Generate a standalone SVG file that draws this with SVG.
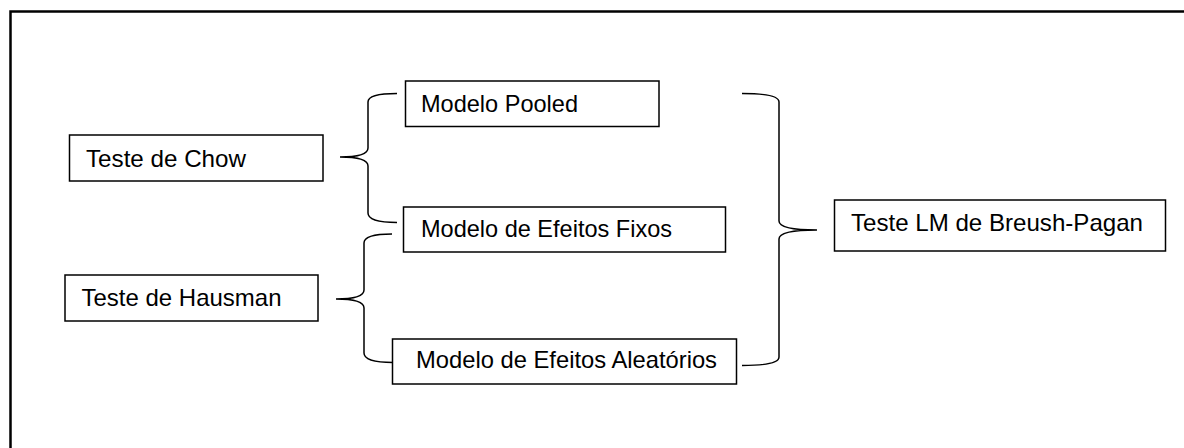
<svg xmlns="http://www.w3.org/2000/svg" width="1184" height="448" viewBox="0 0 1184 448">
  <style>
    .box { fill: #ffffff; stroke: #000000; stroke-width: 1.5; }
    .lbl { font-family: "Liberation Sans", Arial, sans-serif; font-size: 24px; fill: #000000; }
    .brace { fill: none; stroke: #000000; stroke-width: 1.5; }
    .frame { fill: none; stroke: #000000; stroke-width: 2.5; }
  </style>
  <rect width="1184" height="448" fill="#ffffff"/>

  <!-- page frame (open to the right and bottom) -->
  <path class="frame" d="M10.5 460 V11.5 H1190"/>

  <!-- braces connecting tests and models -->
  <g id="connectors">
    <!-- Chow: Pooled vs Fixed effects -->
    <path class="brace" d="M397 93.5 Q368 93.5 368 102 V148 Q368 157 340 157 Q368 157 368 166 V213 Q368 222.5 397 222.5"/>
    <!-- Hausman: Fixed vs Random effects -->
    <path class="brace" d="M392 234 Q364 234 364 243 V290 Q364 299 336 299 Q364 299 364 308 V353 Q364 362.5 393 362.5"/>
    <!-- Breusch-Pagan: Pooled vs Random effects -->
    <path class="brace" d="M742 93.5 Q779 93.5 779 102 V221 Q779 230 817 230 Q779 230 779 239 V357 Q779 365.5 742 365.5"/>
  </g>

  <g id="teste-chow">
    <rect class="box" x="69.5" y="135" width="253.5" height="46"/>
    <text class="lbl" x="86" y="166.5" textLength="160" lengthAdjust="spacingAndGlyphs">Teste de Chow</text>
  </g>

  <g id="teste-hausman">
    <rect class="box" x="65" y="275" width="253" height="46"/>
    <text class="lbl" x="81.5" y="305.5" textLength="200" lengthAdjust="spacingAndGlyphs">Teste de Hausman</text>
  </g>

  <g id="modelo-pooled">
    <rect class="box" x="405.5" y="81" width="253.5" height="45.5"/>
    <text class="lbl" x="421" y="111.5" textLength="157" lengthAdjust="spacingAndGlyphs">Modelo Pooled</text>
  </g>

  <g id="modelo-efeitos-fixos">
    <rect class="box" x="403.5" y="207" width="322" height="45"/>
    <text class="lbl" x="421" y="236.5" textLength="251" lengthAdjust="spacingAndGlyphs">Modelo de Efeitos Fixos</text>
  </g>

  <g id="modelo-efeitos-aleatorios">
    <rect class="box" x="392.5" y="339" width="344" height="45"/>
    <text class="lbl" x="416" y="367.5" textLength="301" lengthAdjust="spacingAndGlyphs">Modelo de Efeitos Aleatórios</text>
  </g>

  <g id="teste-breusch-pagan">
    <rect class="box" x="834.5" y="200" width="331" height="51"/>
    <text class="lbl" x="851" y="230.5" textLength="292" lengthAdjust="spacingAndGlyphs">Teste LM de Breush-Pagan</text>
  </g>
</svg>
